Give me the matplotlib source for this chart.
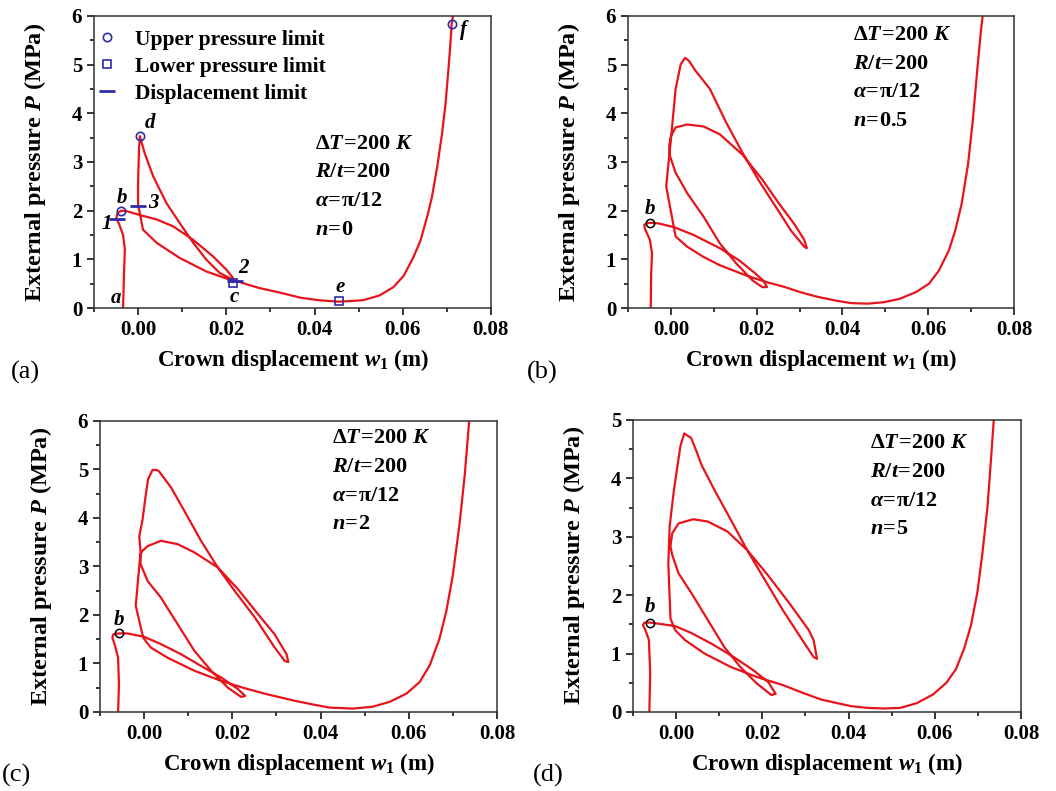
import numpy as np
import matplotlib
matplotlib.use('Agg')
import matplotlib.pyplot as plt
from matplotlib.lines import Line2D
from matplotlib.ticker import MultipleLocator

plt.rcParams['font.family'] = 'Liberation Serif'
plt.rcParams['font.weight'] = 'bold'
plt.rcParams['mathtext.fontset'] = 'custom'
plt.rcParams['mathtext.rm'] = 'Liberation Serif:bold'
plt.rcParams['mathtext.it'] = 'Liberation Serif:italic:bold'
plt.rcParams['mathtext.bf'] = 'Liberation Serif:bold'

# ---- equilibrium paths (w1 in m, P in MPa) ----
w_a = [-0.0034, -0.0032, -0.0030, -0.0034, -0.0042, -0.0049, -0.0047, -0.0038,
       -0.0026, 0.0008, 0.0042, 0.0079, 0.0125, 0.0170, 0.0200, 0.0215, 0.0215,
       0.0208, 0.0155, 0.0094, 0.0042, 0.0011, 0.0009, 0.0004, 0.0000, 0.0000, 0.0002, 0.0004,
       0.0015, 0.0034, 0.0064, 0.0094, 0.0125, 0.0155, 0.0185, 0.0215, 0.0238, 0.0275,
       0.0320, 0.0369, 0.0410, 0.0456, 0.0510, 0.0548, 0.0579, 0.0602, 0.0624, 0.0640,
       0.0655, 0.0666, 0.0678, 0.0689, 0.0697, 0.0704, 0.0708, 0.0711, 0.0714]
p_a = [0.00, 0.70, 1.20, 1.50, 1.70, 1.85, 1.95, 2.00,
       1.99, 1.90, 1.82, 1.68, 1.40, 1.06, 0.79, 0.62, 0.53,
       0.58, 0.75, 1.03, 1.34, 1.61, 1.71, 1.95, 2.10, 2.57, 3.25, 3.53,
       3.18, 2.71, 2.16, 1.75, 1.34, 0.99, 0.72, 0.58, 0.51, 0.41,
       0.32, 0.21, 0.16, 0.13, 0.16, 0.26, 0.43, 0.66, 1.04, 1.38,
       1.86, 2.27, 2.89, 3.57, 4.19, 4.94, 5.42, 5.84, 6.00]

w_b = [-0.0047, -0.0046, -0.0044, -0.0049, -0.0061, -0.0062, -0.0057, -0.0049,
       -0.0030, 0.0008, 0.0053, 0.0114, 0.0159, 0.0197, 0.0216, 0.0224,
       0.0213, 0.0190, 0.0152, 0.0114, 0.0076, 0.0038, 0.0011, -0.0002, -0.0004, 0.0000,
       0.0011, 0.0038, 0.0076, 0.0114, 0.0167, 0.0213, 0.0251, 0.0289, 0.0311, 0.0317,
       0.0311, 0.0281, 0.0243, 0.0205, 0.0167, 0.0129, 0.0091, 0.0057, 0.0042, 0.0033,
       0.0023, 0.0011, 0.0000, -0.0011, 0.0011,
       0.0038, 0.0076, 0.0114, 0.0175, 0.0220, 0.0266, 0.0304, 0.0342, 0.0386, 0.0421,
       0.0459, 0.0497, 0.0534, 0.0572, 0.0602, 0.0625, 0.0648, 0.0663, 0.0678, 0.0693,
       0.0704, 0.0715, 0.0723, 0.0727]
p_b = [0.00, 0.71, 1.12, 1.40, 1.64, 1.71, 1.74, 1.75,
       1.74, 1.66, 1.50, 1.23, 0.98, 0.71, 0.56, 0.43,
       0.43, 0.57, 0.92, 1.33, 1.88, 2.36, 2.78, 3.12, 3.33, 3.53,
       3.71, 3.77, 3.73, 3.57, 3.15, 2.64, 2.16, 1.71, 1.40, 1.23,
       1.26, 1.58, 2.10, 2.62, 3.19, 3.81, 4.50, 4.88, 5.08, 5.14,
       5.01, 4.50, 3.46, 2.50, 1.47,
       1.26, 1.05, 0.88, 0.67, 0.54, 0.43, 0.32, 0.23, 0.15, 0.10,
       0.09, 0.12, 0.19, 0.33, 0.50, 0.77, 1.18, 1.59, 2.14, 2.96,
       3.85, 4.95, 5.70, 6.00]

w_c = [-0.0059, -0.0057, -0.0059, -0.0067, -0.0072, -0.0070, -0.0058,
       -0.0038, 0.0000, 0.0038, 0.0084, 0.0129, 0.0175, 0.0213, 0.0229,
       0.0220, 0.0190, 0.0152, 0.0114, 0.0076, 0.0038, 0.0008, -0.0008, -0.0008, -0.0004,
       0.0008, 0.0038, 0.0076, 0.0114, 0.0167, 0.0213, 0.0258, 0.0296, 0.0323, 0.0327,
       0.0319, 0.0296, 0.0251, 0.0205, 0.0167, 0.0129, 0.0091, 0.0061, 0.0034, 0.0029,
       0.0019, 0.0009, 0.0004, -0.0004, -0.0011, -0.0008, -0.0013, -0.0019, -0.0002,
       0.0015, 0.0053, 0.0114, 0.0175, 0.0228, 0.0281, 0.0342, 0.0385, 0.0421, 0.0474,
       0.0519, 0.0557, 0.0595, 0.0625, 0.0648, 0.0670, 0.0685, 0.0700, 0.0715, 0.0727, 0.0737]
p_c = [0.00, 0.57, 1.12, 1.40, 1.53, 1.60, 1.62,
       1.62, 1.55, 1.40, 1.19, 0.95, 0.71, 0.47, 0.33,
       0.31, 0.50, 0.85, 1.26, 1.81, 2.36, 2.70, 3.05, 3.25, 3.32,
       3.42, 3.53, 3.46, 3.29, 2.98, 2.53, 2.02, 1.60, 1.19, 1.03,
       1.05, 1.33, 1.95, 2.50, 2.98, 3.53, 4.15, 4.63, 4.96, 4.99,
       4.99, 4.80, 4.49, 3.94, 3.62, 3.30, 2.80, 2.19, 1.53,
       1.33, 1.12, 0.85, 0.64, 0.49, 0.36, 0.23, 0.15, 0.09, 0.07,
       0.11, 0.21, 0.38, 0.62, 0.97, 1.52, 2.07, 2.82, 3.86, 4.89, 6.00]

w_d = [-0.0062, -0.0060, -0.0063, -0.0071, -0.0077, -0.0073, -0.0060,
       -0.0039, -0.0002, 0.0036, 0.0082, 0.0134, 0.0180, 0.0214, 0.0231,
       0.0221, 0.0187, 0.0149, 0.0112, 0.0074, 0.0036, 0.0006, -0.0009, -0.0013, -0.0009,
       0.0006, 0.0040, 0.0074, 0.0119, 0.0165, 0.0210, 0.0263, 0.0308, 0.0319, 0.0327,
       0.0319, 0.0293, 0.0248, 0.0202, 0.0165, 0.0127, 0.0089, 0.0059, 0.0048, 0.0035,
       0.0019, 0.0010, 0.0003, -0.0005, -0.0015, -0.0018, -0.0013,
       -0.0002, 0.0021, 0.0066, 0.0127, 0.0187, 0.0248, 0.0293, 0.0338, 0.0406, 0.0444,
       0.0482, 0.0520, 0.0558, 0.0596, 0.0627, 0.0649, 0.0668, 0.0684, 0.0699, 0.0710,
       0.0722, 0.0729, 0.0737]
p_d = [0.00, 0.66, 1.23, 1.40, 1.49, 1.53, 1.53,
       1.51, 1.47, 1.35, 1.17, 0.94, 0.71, 0.51, 0.31,
       0.29, 0.49, 0.77, 1.11, 1.57, 2.03, 2.37, 2.69, 2.83, 3.06,
       3.23, 3.30, 3.26, 3.09, 2.77, 2.37, 1.86, 1.40, 1.23, 0.91,
       0.94, 1.23, 1.74, 2.31, 2.77, 3.29, 3.80, 4.23, 4.45, 4.69,
       4.77, 4.55, 4.20, 3.80, 3.17, 2.54, 1.60,
       1.40, 1.23, 1.00, 0.77, 0.60, 0.46, 0.33, 0.21, 0.10, 0.07,
       0.06, 0.07, 0.15, 0.30, 0.50, 0.73, 1.08, 1.48, 2.05, 2.68,
       3.48, 4.17, 5.00]

# special points in (a)
upper_w = [-0.0038, 0.0004, 0.0711]
upper_p = [1.99, 3.53, 5.84]
lower_w = [0.0215, 0.0456]
lower_p = [0.52, 0.14]
disp_w = [-0.0047, 0.0000, 0.0220]
disp_p = [1.83, 2.10, 0.55]
pt_labels = ['a', 'b', '1', '3', 'd', '2', 'c', 'e', 'f']
pt_label_w = [-0.0062, -0.0048, -0.0082, 0.0022, 0.0014, 0.0228, 0.0208, 0.0448, 0.0730]
pt_label_p = [0.10, 2.15, 1.62, 2.05, 3.70, 0.72, 0.12, 0.33, 5.60]

# limit point b in (b)-(d)
b_w = [-0.0049, -0.0058, -0.0060]
b_p = [1.75, 1.62, 1.53]

n_values = ['0', '0.5', '2', '5']
ylims = [6, 6, 6, 5]
text_pos = [(0.040, 3.38, 0.59), (0.0425, 5.61, 0.59), (0.0425, 5.64, 0.59), (0.045, 4.60, 0.49)]

red = '#e8141c'
navy = '#2c2ca8'
B = 'bold'

fig = plt.figure(figsize=(10.56, 7.91), dpi=100)
rects = [[0.0890, 0.6106, 0.3759, 0.3692],
         [0.5947, 0.6106, 0.3655, 0.3692],
         [0.0947, 0.0999, 0.3759, 0.3679],
         [0.5994, 0.0999, 0.3674, 0.3692]]
curves = [(w_a, p_a), (w_b, p_b), (w_c, p_c), (w_d, p_d)]
panel_tags = ['(a)', '(b)', '(c)', '(d)']
tag_xy = [(0.010, 0.521), (0.499, 0.521), (0.002, 0.012), (0.505, 0.012)]

for i in range(4):
    ax = fig.add_axes(rects[i])
    w, p = curves[i]
    ax.plot(w, p, color=red, lw=1.6, zorder=2, solid_joinstyle='round')
    ax.set_xlim(-0.01, 0.08)
    ax.set_ylim(0, ylims[i])
    ax.xaxis.set_major_locator(MultipleLocator(0.02))
    ax.xaxis.set_minor_locator(MultipleLocator(0.01))
    ax.yaxis.set_major_locator(MultipleLocator(1))
    ax.yaxis.set_minor_locator(MultipleLocator(0.5))
    ax.xaxis.set_major_formatter(plt.FuncFormatter(lambda v, pos: '%.2f' % v))
    ax.yaxis.set_major_formatter(plt.FuncFormatter(lambda v, pos: '%d' % round(v)))
    ax.tick_params(which='both', direction='out', top=False, right=False, labelsize=15, width=1.1)
    ax.tick_params(which='major', length=5)
    ax.tick_params(which='minor', length=3)
    for lab in ax.get_xticklabels() + ax.get_yticklabels():
        lab.set_fontweight(B)
    for s in ax.spines.values():
        s.set_linewidth(1.1)
        s.set_color('#333333')
    ax.set_xlabel(r'Crown displacement $\mathit{w}_{\mathrm{1}}$ (m)', fontsize=16.5,
                  fontweight=B, labelpad=5)
    ax.set_ylabel(r'External pressure $\mathit{P}$ (MPa)', fontsize=17.5,
                  fontweight=B, labelpad=17)

    tx, ty, dy = text_pos[i]
    lines = [r'$\mathrm{\Delta}\mathit{T}\!=\!\mathrm{200\ }\mathit{K}$',
             r'$\mathit{R}\mathrm{/}\mathit{t}\!=\!\mathrm{200}$',
             r'$\mathit{α}\!=\!\mathrm{π/12}$',
             r'$\mathit{n}\!=\!\mathrm{' + n_values[i] + '}$']
    for k, s in enumerate(lines):
        ax.text(tx, ty - k * dy, s, fontsize=16, va='center', ha='left')

    if i == 0:
        ax.plot(upper_w, upper_p, 'o', ms=6, mfc='none', mec=navy, mew=1.2, zorder=3)
        ax.plot(lower_w, lower_p, 's', ms=5.5, mfc='none', mec=navy, mew=1.2, zorder=3)
        ax.plot(disp_w, disp_p, '_', ms=12, mec=navy, mew=2, zorder=3)
        for lab, lw_, lp_ in zip(pt_labels, pt_label_w, pt_label_p):
            ax.text(lw_, lp_, lab, fontsize=15, fontstyle='italic', fontweight=B)
        handles = [Line2D([], [], ls='none', marker='o', ms=6, mfc='none', mec=navy, mew=1.2),
                   Line2D([], [], ls='none', marker='s', ms=5.5, mfc='none', mec=navy, mew=1.2),
                   Line2D([], [], ls='none', marker='_', ms=12, mec=navy, mew=2)]
        leg = ax.legend(handles, ['Upper pressure limit', 'Lower pressure limit', 'Displacement limit'],
                        loc='upper left', bbox_to_anchor=(0.006, 0.953), frameon=False,
                        prop={'size': 15.5, 'weight': B},
                        handlelength=1.0, handletextpad=0.8, labelspacing=0.32,
                        borderaxespad=0.0, borderpad=0.0)
    else:
        ax.plot(b_w[i - 1], b_p[i - 1], 'o', ms=6, mfc='none', mec='black', mew=1.1, zorder=3)
        ax.text(b_w[i - 1] - 0.0012, b_p[i - 1] + 0.18, 'b', fontsize=15,
                fontstyle='italic', fontweight=B)

    fig.text(tag_xy[i][0], tag_xy[i][1], panel_tags[i], fontsize=19, fontweight='normal')

fig.savefig('out.png', dpi=100)
